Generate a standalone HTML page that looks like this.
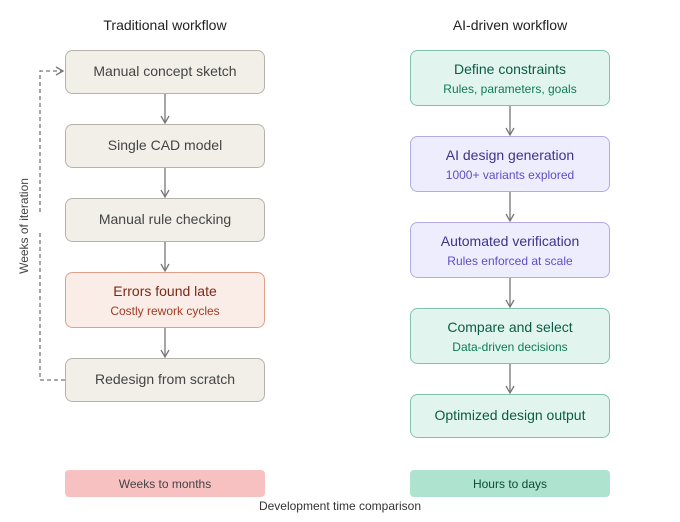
<!DOCTYPE html>
<html><head><meta charset="utf-8"><style>body{margin:0;background:#fff}svg{display:block}text{font-family:"Liberation Sans","DejaVu Sans",sans-serif}</style></head><body>
<svg width="680" height="522" viewBox="0 0 680 522" xmlns="http://www.w3.org/2000/svg">
<defs><marker id="a" markerWidth="10" markerHeight="10" refX="8" refY="5" orient="auto" markerUnits="userSpaceOnUse"><path d="M1,1 L8,5 L1,9" fill="none" stroke="#777" stroke-width="1.3"/></marker></defs>
<text x="165" y="30" text-anchor="middle" font-size="14" fill="#222">Traditional workflow</text>
<text x="510" y="30" text-anchor="middle" font-size="14" fill="#222">AI-driven workflow</text>
<g stroke-width="1">
<rect x="65.5" y="50.5" width="199" height="43" rx="7" fill="#f1efe8" stroke="#b4b2a9"/>
<rect x="65.5" y="124.5" width="199" height="43" rx="7" fill="#f1efe8" stroke="#b4b2a9"/>
<rect x="65.5" y="198.5" width="199" height="43" rx="7" fill="#f1efe8" stroke="#b4b2a9"/>
<rect x="65.5" y="272.5" width="199" height="55" rx="7" fill="#faece7" stroke="#e0a08a"/>
<rect x="65.5" y="358.5" width="199" height="43" rx="7" fill="#f1efe8" stroke="#b4b2a9"/>
<rect x="410.5" y="50.5" width="199" height="55" rx="7" fill="#e1f5ee" stroke="#7fc4a8"/>
<rect x="410.5" y="136.5" width="199" height="55" rx="7" fill="#eeedfe" stroke="#b1abe6"/>
<rect x="410.5" y="222.5" width="199" height="55" rx="7" fill="#eeedfe" stroke="#b1abe6"/>
<rect x="410.5" y="308.5" width="199" height="55" rx="7" fill="#e1f5ee" stroke="#7fc4a8"/>
<rect x="410.5" y="394.5" width="199" height="43" rx="7" fill="#e1f5ee" stroke="#7fc4a8"/>
</g>
<rect x="65" y="470" width="200" height="27" rx="4" fill="#f7c1c1"/>
<rect x="410" y="470" width="200" height="27" rx="4" fill="#aee3d0"/>
<g font-size="14" text-anchor="middle" fill="#444">
<text x="165" y="76">Manual concept sketch</text>
<text x="165" y="150">Single CAD model</text>
<text x="165" y="224">Manual rule checking</text>
<text x="165" y="296" fill="#7a2a18">Errors found late</text>
<text x="165" y="384">Redesign from scratch</text>
<text x="510" y="74" fill="#0a5c44">Define constraints</text>
<text x="510" y="160" fill="#3c3489">AI design generation</text>
<text x="510" y="246" fill="#3c3489">Automated verification</text>
<text x="510" y="332" fill="#0a5c44">Compare and select</text>
<text x="510" y="420" fill="#0a5c44">Optimized design output</text>
</g>
<g font-size="12" text-anchor="middle">
<text x="165" y="315" fill="#a03c24">Costly rework cycles</text>
<text x="510" y="93" fill="#0f7a58">Rules, parameters, goals</text>
<text x="510" y="179" fill="#5b4fc6">1000+ variants explored</text>
<text x="510" y="265" fill="#5b4fc6">Rules enforced at scale</text>
<text x="510" y="351" fill="#0f7a58">Data-driven decisions</text>
<text x="165" y="488" fill="#444">Weeks to months</text>
<text x="510" y="488" fill="#0a4d38">Hours to days</text>
<text x="340" y="510" fill="#333">Development time comparison</text>
</g>
<g stroke="#777" stroke-width="1.3" fill="none" marker-end="url(#a)">
<line x1="165" y1="94" x2="165" y2="123"/>
<line x1="165" y1="168" x2="165" y2="197"/>
<line x1="165" y1="242" x2="165" y2="271"/>
<line x1="165" y1="328" x2="165" y2="357"/>
<line x1="510" y1="106" x2="510" y2="135"/>
<line x1="510" y1="192" x2="510" y2="221"/>
<line x1="510" y1="278" x2="510" y2="307"/>
<line x1="510" y1="364" x2="510" y2="393"/>
</g>
<g stroke="#777" stroke-width="1.3" fill="none" stroke-dasharray="4,3">
<path d="M65,380 H40 V232"/>
<path d="M40,212 V71 H63" marker-end="url(#a)"/>
</g>
<text transform="translate(28,226) rotate(-90)" font-size="12" text-anchor="middle" fill="#444">Weeks of iteration</text>
</svg>
</body></html>
